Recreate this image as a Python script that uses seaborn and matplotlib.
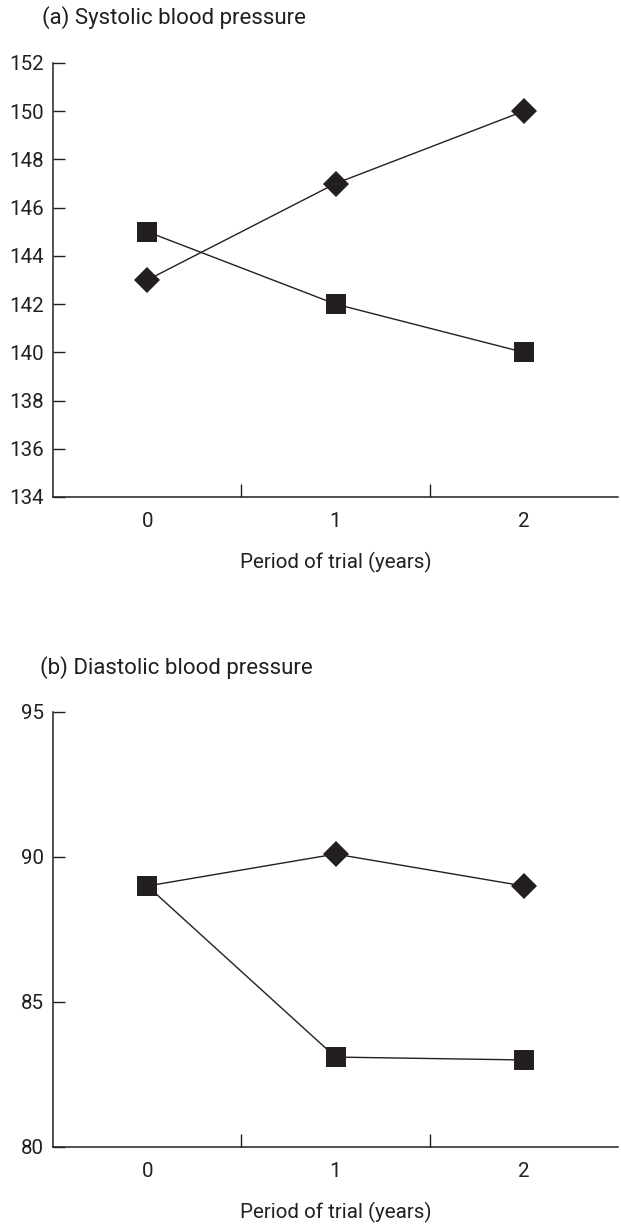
import matplotlib
matplotlib.use("Agg")
import matplotlib.pyplot as plt
import seaborn as sns
import pandas as pd

years = [0, 1, 2]
year_labels = ["0", "1", "2"]
systolic_diamond = [143, 147, 150]
systolic_square = [145, 142, 140]
diastolic_diamond = [89, 90.1, 89]
diastolic_square = [89, 83.1, 83.0]

sns.set_theme(style="white")
plt.rcParams['font.family'] = ['Roboto', 'DejaVu Sans']

INK = "#231f20"
FS = 14.8

fig = plt.figure(figsize=(6.21, 12.25), dpi=100)
ax1 = fig.add_axes([0.0858, 0.5943, 0.909, 0.3543])
ax2 = fig.add_axes([0.0858, 0.0637, 0.909, 0.3551])


def draw(ax, dia, sq, yticks, ylim, dia_every=None):
    df_d = pd.DataFrame({"year": years, "value": dia})
    df_s = pd.DataFrame({"year": years, "value": sq})
    sns.lineplot(data=df_d, x="year", y="value", ax=ax, color=INK, lw=1.0,
                 marker="D", markersize=13.5, markeredgewidth=0, zorder=3,
                 markevery=dia_every)
    sns.lineplot(data=df_s, x="year", y="value", ax=ax, color=INK, lw=1.0,
                 marker="s", markersize=15, markeredgewidth=0, zorder=4)
    ax.set_xlim(-0.5, 2.5)
    ax.set_ylim(*ylim)
    ax.set_yticks(yticks)
    ax.set_yticklabels([str(t) for t in yticks])
    ax.set_xticks(years)
    ax.set_xticklabels(year_labels)
    ax.set_xticks([0.5, 1.5], minor=True)
    ax.tick_params(axis="x", which="major", length=0, pad=11, labelsize=FS, colors=INK)
    ax.tick_params(axis="x", which="minor", direction="in", length=9.5, width=1.0,
                   color=INK, bottom=True)
    ax.tick_params(axis="y", which="major", direction="in", length=8.5, width=1.0,
                   pad=7, labelsize=FS, colors=INK, left=True)
    for s in ["top", "right"]:
        ax.spines[s].set_visible(False)
    for s in ["left", "bottom"]:
        ax.spines[s].set_color(INK)
        ax.spines[s].set_linewidth(1.1)
    ax.set_xlabel("Period of trial (years)", fontsize=FS, color=INK, labelpad=15)
    ax.set_ylabel("")


draw(ax1, systolic_diamond, systolic_square, list(range(134, 153, 2)), (134, 152))
draw(ax2, diastolic_diamond, diastolic_square, [80, 85, 90, 95], (80, 95),
     dia_every=[1, 2])

fig.text(42 / 621, 1 - 18 / 1225, "(a) Systolic blood pressure", fontsize=16,
         color=INK, ha="left", va="center")
fig.text(40 / 621, 1 - 668 / 1225, "(b) Diastolic blood pressure", fontsize=16,
         color=INK, ha="left", va="center")

fig.savefig("out.png", dpi=100)
